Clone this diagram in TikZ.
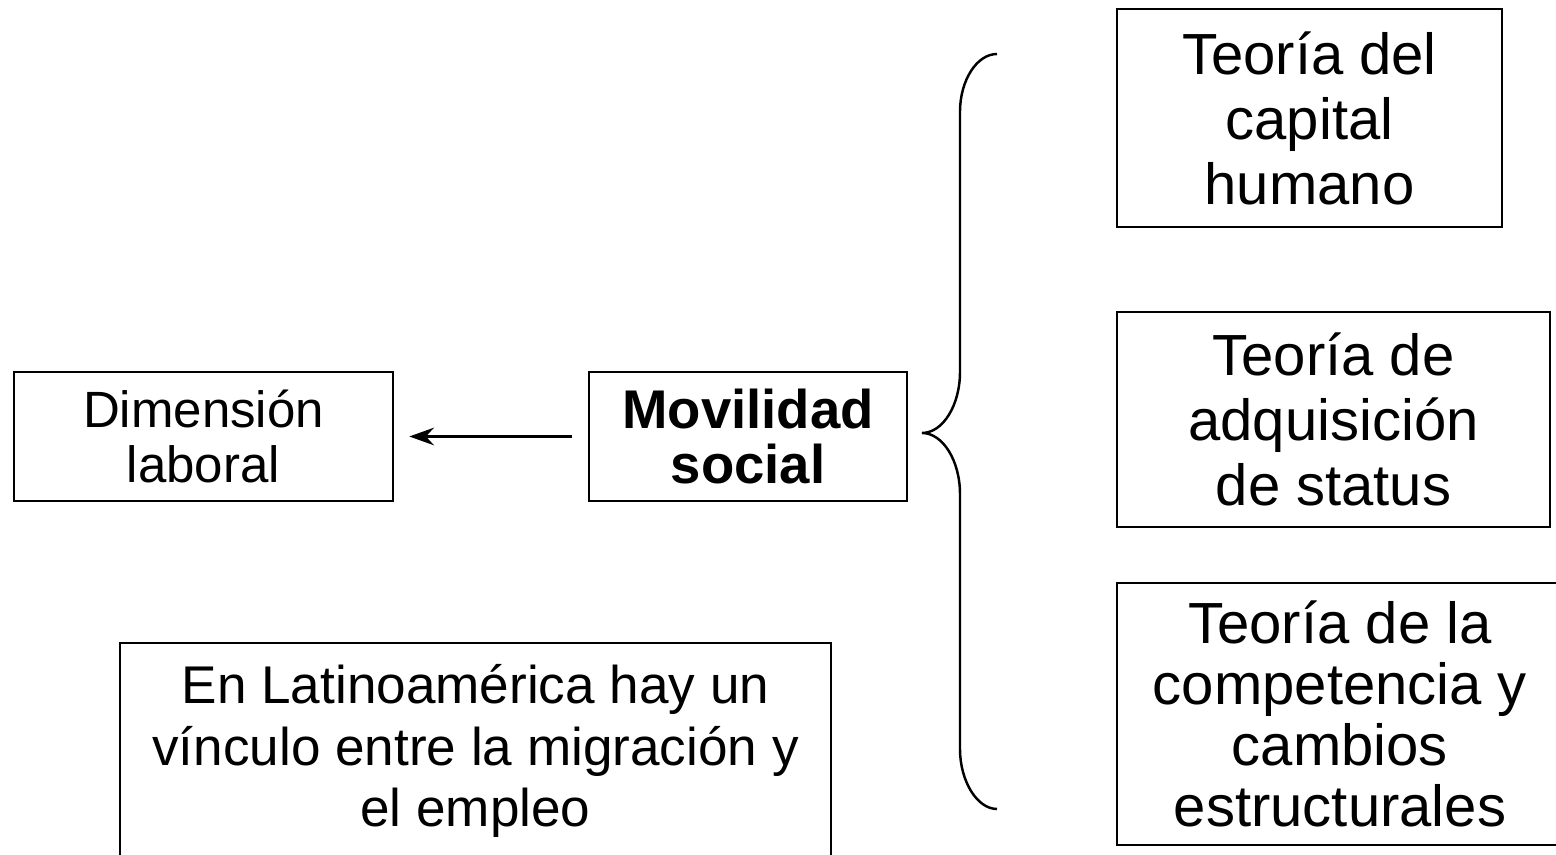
\documentclass[tikz,border=0pt]{standalone}
\usepackage{fontspec}
\setmainfont{Liberation Sans}
\usetikzlibrary{arrows.meta,positioning}

\begin{document}
\begin{tikzpicture}[x=0.01cm, y=-0.01cm, line width=0.7pt,
  box/.style={rectangle, draw, align=center, inner sep=0pt},
  small/.style={font=\fontsize{14.5}{15.6}\selectfont},
  big/.style={font=\fontsize{16.5}{18.5}\selectfont}]

\clip (0,0) rectangle (1556,855);

  % Left side: the two linked boxes

\node (dim) at (203.5,436.5) [box, small, minimum width=3.79cm, minimum height=1.29cm] {Dimensión\\laboral};
\node (mov) at (748,436.5) [box, font=\fontsize{15.5}{15.6}\selectfont\bfseries, minimum width=3.18cm, minimum height=1.29cm] {Movilidad\\social};

\draw[-{Stealth[length=7pt,width=5pt]}, shorten <=0.16cm, shorten >=0.15cm] (mov.west) -- (dim.east);

\node (lat) at (475.5,751) [box, font=\fontsize{15.1}{17.6}\selectfont, minimum width=7.11cm, minimum height=2.16cm] {En Latinoamérica hay un\\vínculo entre la migración y\\el empleo};

% Brace

\draw (997,54) .. controls (977,54) and (960,80) .. (960,112) -- (960,372)
  .. controls (960,405) and (943,433) .. (922,433)
  .. controls (943,433) and (960,461) .. (960,494) -- (960,749)
  .. controls (960,781) and (977,809) .. (997,809);

% Right side: theories

\node (cap) at (1309.5,118) [box, big, minimum width=3.85cm, minimum height=2.18cm] {Teoría del\\capital\\humano};
\node (sta) at (1333.5,419.5) [box, big, minimum width=4.33cm, minimum height=2.15cm] {Teoría de\\adquisición\\de status};
\node (com) at (1340,714) [box, font=\fontsize{16.5}{17.4}\selectfont, minimum width=4.46cm, minimum height=2.62cm] {Teoría de la\\competencia y\\cambios\\estructurales};

\end{tikzpicture}
\end{document}
